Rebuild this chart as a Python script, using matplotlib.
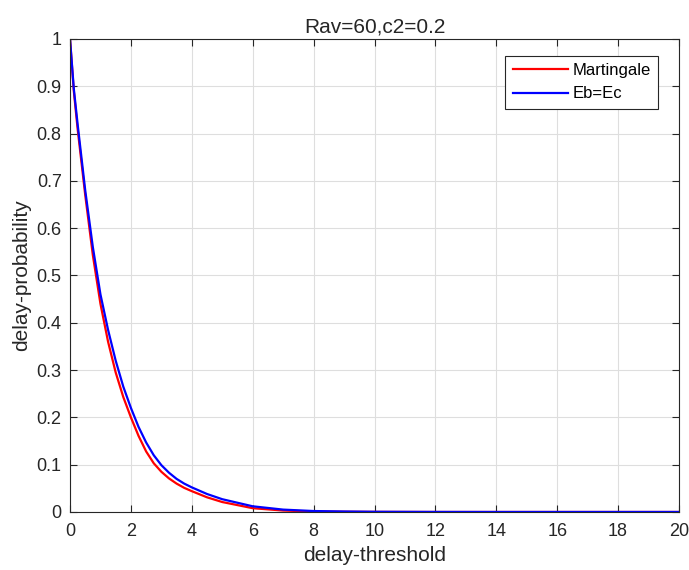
import numpy as np
import matplotlib
matplotlib.use("Agg")
import matplotlib.pyplot as plt

plt.rcParams['font.family'] = ['Liberation Sans', 'DejaVu Sans']

# values
x_mart = [0, 0.125, 0.25, 0.5, 0.75, 1.0, 1.25, 1.5, 1.75, 2.0, 2.25, 2.5, 2.75, 3.0, 3.25,
          3.5, 3.75, 4.0, 4.5, 5.0, 6.0, 7.0, 8.0, 9.0, 10.0, 12.0, 14.0, 16.0, 18.0, 20.0]
y_mart = [1.0, 0.89, 0.81, 0.67, 0.543, 0.44, 0.36, 0.295, 0.243, 0.20, 0.161, 0.128, 0.103,
          0.085, 0.071, 0.060, 0.051, 0.044, 0.031, 0.021, 0.008, 0.003, 0.001, 0.0005,
          0.0002, 0, 0, 0, 0, 0]

x_ebec = [0, 0.125, 0.25, 0.5, 0.75, 1.0, 1.25, 1.5, 1.75, 2.0, 2.25, 2.5, 2.75, 3.0, 3.25,
          3.5, 3.75, 4.0, 4.5, 5.0, 6.0, 7.0, 8.0, 9.0, 10.0, 12.0, 14.0, 16.0, 18.0, 20.0]
y_ebec = [1.0, 0.895, 0.82, 0.68, 0.56, 0.46, 0.385, 0.32, 0.265, 0.22, 0.18, 0.147, 0.12,
          0.099, 0.083, 0.070, 0.060, 0.052, 0.038, 0.027, 0.012, 0.005, 0.002, 0.001,
          0.0004, 0.0001, 0, 0, 0, 0]

xticks = list(range(0, 21, 2))
yticks = [0, 0.1, 0.2, 0.3, 0.4, 0.5, 0.6, 0.7, 0.8, 0.9, 1]
ytick_labels = ['0', '0.1', '0.2', '0.3', '0.4', '0.5', '0.6', '0.7', '0.8', '0.9', '1']

fig = plt.figure(figsize=(6.89, 5.70), dpi=100)
ax = fig.add_axes([0.1016, 0.1018, 0.8839, 0.8298])

ax.plot(x_mart, y_mart, color='#ff0000', lw=1.6, label='Martingale')
ax.plot(x_ebec, y_ebec, color='#0000ff', lw=1.6, label='Eb=Ec')

ax.set_xlim(0, 20)
ax.set_ylim(0, 1)
ax.set_xticks(xticks)
ax.set_yticks(yticks)
ax.set_yticklabels(ytick_labels)
ax.grid(True, color='#dedede', lw=0.8)
ax.set_axisbelow(True)
ax.tick_params(direction='in', top=True, right=True, length=5, width=0.8,
               colors='#262626', labelsize=13, labelcolor='#262626')
ax.tick_params(axis='x', pad=8)
ax.tick_params(axis='y', pad=6)
for s in ax.spines.values():
    s.set_color('#262626')
    s.set_linewidth(0.8)

ax.set_xlabel('delay-threshold', fontsize=15, color='#262626', labelpad=4)
ax.set_ylabel('delay-probability', fontsize=15, color='#262626', labelpad=4)
ax.set_title('Rav=60,c2=0.2', fontsize=15, color='#262626', pad=4.5)

leg = ax.legend(loc='upper right', bbox_to_anchor=(0.966, 0.965), borderaxespad=0,
                fontsize=12, handlelength=3.3, handletextpad=0.3, fancybox=False,
                framealpha=1, edgecolor='#262626', borderpad=0.45, labelspacing=0.5)
leg.get_frame().set_linewidth(0.8)

fig.savefig('out.png', dpi=100)
